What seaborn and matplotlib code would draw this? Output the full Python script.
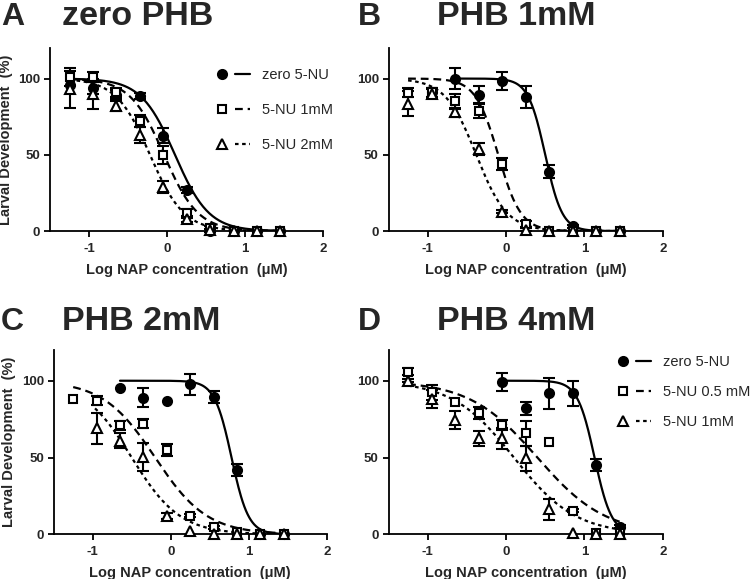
import numpy as np
import pandas as pd
import matplotlib.pyplot as plt
import seaborn as sns
from matplotlib.lines import Line2D
from matplotlib.legend_handler import HandlerTuple

# log10 of NAP concentration (uM)
log_conc = [-1.25, -0.95, -0.65, -0.35, -0.05, 0.25, 0.55, 0.85, 1.15, 1.45]
nan = np.nan

# Panel A: zero PHB
a_zero = [96, 94, 89.5, 88.6, 62.5, 27, 0, 0, 0, 0]
a_zero_err = [0, 4, 3, 2, 5, 2, 0, 0, 0, 0]
a_1mm = [101, 101, 91, 72, 50, 11.5, 2, 0, 0, 0]
a_1mm_err = [6, 3, 3, 4, 6, 3, 1, 0, 0, 0]
a_2mm = [93, 90, 82, 63, 29, 8, 0.5, 0, 0, 0]
a_2mm_err = [12, 10, 3, 5, 4, 2, 1, 0, 0, 0]

# Panel B: PHB 1mM
b_zero = [nan, 91, 100, 89, 98.5, 88, 39, 3, 0, 0]
b_zero_err = [0, 3, 7, 6, 6, 7, 4, 1, 0, 0]
b_1mm = [90.6, 91, 85, 79, 43.7, 4.6, 0, 0, 0, 0]
b_1mm_err = [3, 3, 5, 5, 4, 2, 0, 0, 0, 0]
b_2mm = [83.6, 90, 78, 54, 12.7, 0.7, 0, 0, 0, 0]
b_2mm_err = [8, 3, 3, 4, 1, 1, 0, 0, 0, 0]

# Panel C: PHB 2mM
c_zero = [nan, nan, 95, 89, 86.8, 97.6, 89.6, 41.9, 0, 0]
c_zero_err = [0, 0, 0, 6, 0, 7, 4, 4, 0, 0]
c_1mm = [88, 87, 71, 72, 55, 12, 4.5, 1.7, 0, 0]
c_1mm_err = [0, 3, 3, 3, 4, 1, 1, 0, 0, 0]
c_2mm = [nan, 69, 61, 50.5, 12, 2, 0, 0, 0, 0]
c_2mm_err = [0, 10, 5, 9, 2, 0, 0, 0, 0, 0]

# Panel D: PHB 4mM
d_zero = [nan, nan, nan, nan, 99, 82, 91.8, 91.8, 45, 5]
d_zero_err = [0, 0, 0, 0, 6, 4, 10, 8, 4, 1]
d_05mm = [106, 92.4, 86.3, 78.8, 71.2, 65.8, 60.3, 15.2, 0.6, 0.8]
d_05mm_err = [2, 5, 0, 4, 3, 8, 0, 1, 0, 0]
d_1mm = [100, 88, 74.4, 62.5, 62.5, 49.5, 16.3, 1, 0, 0]
d_1mm_err = [1, 6, 6, 5, 7, 8, 7, 0, 0, 0]

# fitted curves: (start log conc, logIC50, hill slope)
a_fits = [(-1.25, 0.10, 2.0), (-1.25, -0.04, 2.0), (-1.25, -0.22, 2.0)]
b_fits = [(-0.65, 0.50, 4.0), (-1.25, -0.10, 3.0), (-1.25, -0.38, 2.2)]
c_fits = [(-0.65, 0.78, 4.0), (-1.25, -0.20, 1.3), (-0.97, -0.50, 1.4)]
d_fits = [(-0.05, 1.13, 4.0), (-1.25, 0.40, 1.0), (-1.25, 0.10, 1.1)]

panels = [
    ('A', 'zero PHB', [a_zero, a_1mm, a_2mm], [a_zero_err, a_1mm_err, a_2mm_err], a_fits,
     ['zero 5-NU', '5-NU 1mM', '5-NU 2mM']),
    ('B', 'PHB 1mM', [b_zero, b_1mm, b_2mm], [b_zero_err, b_1mm_err, b_2mm_err], b_fits, None),
    ('C', 'PHB 2mM', [c_zero, c_1mm, c_2mm], [c_zero_err, c_1mm_err, c_2mm_err], c_fits, None),
    ('D', 'PHB 4mM', [d_zero, d_05mm, d_1mm], [d_zero_err, d_05mm_err, d_1mm_err], d_fits,
     ['zero 5-NU', '5-NU 0.5 mM', '5-NU 1mM']),
]

series_keys = ['zero', 'mid', 'high']
markers = ['o', 's', '^']
faces = ['black', 'white', 'white']
msizes = [6.5, 6.3, 7]
dash_map = {'zero': '', 'mid': (3.5, 2.2), 'high': (1.6, 1.6)}
dash_ls = ['-', (0, (3.5, 2.2)), (0, (1.6, 1.6))]

axes_pos = {
    'A': [0.0667, 0.601, 0.3644, 0.316],
    'B': [0.518, 0.601, 0.3656, 0.316],
    'C': [0.0716, 0.0772, 0.364, 0.3183],
    'D': [0.518, 0.0772, 0.3656, 0.3183],
}
# letter x, title x, baseline y (pixels)
title_pos = {'A': (1, 62, 25), 'B': (358, 437, 25), 'C': (1, 62, 330), 'D': (358, 437, 330)}

sns.set_theme(style="ticks")
plt.rcParams['font.family'] = ['Liberation Sans', 'DejaVu Sans']
plt.rcParams['axes.unicode_minus'] = False

fig = plt.figure(figsize=(7.5, 5.79), dpi=100)

for letter, title, ys, errs, fits, labels in panels:
    ax = fig.add_axes(axes_pos[letter])

    # fitted dose-response curves
    rows = []
    for key, (start, ic50, hill) in zip(series_keys, fits):
        xs = np.linspace(start, 1.45, 200)
        for xv in xs:
            rows.append({'x': xv, 'y': 100 / (1 + 10 ** (hill * (xv - ic50))), 'series': key})
    curves = pd.DataFrame(rows)
    sns.lineplot(data=curves, x='x', y='y', style='series', dashes=dash_map, color='black',
                 lw=1.6, legend=False, ax=ax, estimator=None, sort=False)

    # data points with SEM bars
    for i in range(3):
        y = np.array(ys[i], dtype=float)
        e = np.array(errs[i], dtype=float)
        e[e <= 0] = np.nan
        ax.errorbar(log_conc, y, yerr=e, fmt='none', ecolor='black', elinewidth=1.5,
                    capsize=4, capthick=1.5, clip_on=False, zorder=3)
        ax.plot(log_conc, y, linestyle='none', marker=markers[i], ms=msizes[i],
                mfc=faces[i], mec='black', mew=1.5, clip_on=False, zorder=4)

    ax.set_xlim(-1.5, 2)
    ax.set_ylim(0, 120)
    ax.set_xticks([-1, 0, 1, 2])
    ax.set_yticks([0, 50, 100])
    sns.despine(ax=ax)
    for s in ['left', 'bottom']:
        ax.spines[s].set_linewidth(1.3)
        ax.spines[s].set_color('black')
    ax.tick_params(axis='both', direction='out', length=4, width=1.3, color='black',
                   labelsize=9.5, pad=3)
    ax.tick_params(axis='x', pad=4.5)
    for lab in ax.get_xticklabels() + ax.get_yticklabels():
        lab.set_fontweight('bold')
    ax.set_xlabel('Log NAP concentration  (\u03bcM)', fontsize=10.5, fontweight='bold', labelpad=6)
    if letter in ('A', 'C'):
        ax.set_ylabel('Larval Development  (%)', fontsize=10.5, fontweight='bold', labelpad=4)
    else:
        ax.set_ylabel('')

    lx, tx, ty = title_pos[letter]
    fig.text(lx / 750, 1 - ty / 579, letter, fontsize=23, fontweight='bold', va='baseline')
    fig.text(tx / 750, 1 - ty / 579, title, fontsize=24.5, fontweight='bold', va='baseline')

    if labels is not None:
        handles = []
        for i in range(3):
            mk = Line2D([], [], linestyle='none', marker=markers[i], ms=msizes[i],
                        mfc=faces[i], mec='black', mew=1.5)
            ln = Line2D([], [], color='black', lw=1.6, linestyle=dash_ls[i])
            handles.append((mk, ln))
        if letter == 'A':
            anchor, spacing = (0.60, 0.89), 1.45
        else:
            anchor, spacing = (0.826, 0.975), 1.1
        ax.legend(handles, labels, handler_map={tuple: HandlerTuple(ndivide=None, pad=0.4)},
                  loc='upper left', bbox_to_anchor=anchor, frameon=False, fontsize=10.5,
                  handlelength=2.5, handletextpad=0.8, labelspacing=spacing,
                  borderpad=0, borderaxespad=0)

fig.savefig('out.png', dpi=100)
